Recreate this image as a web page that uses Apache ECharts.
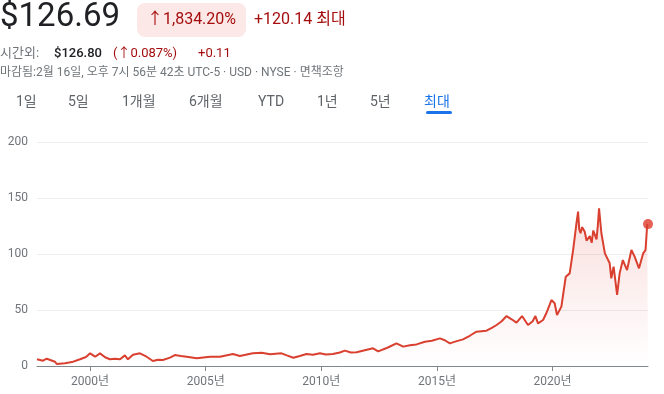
<!DOCTYPE html>
<html><head><meta charset="utf-8">
<script src="https://cdn.jsdelivr.net/npm/echarts@6/dist/echarts.min.js"></script>
<style>html,body{margin:0;padding:0;background:#fff}#c{width:664px;height:394px}</style>
</head><body><div id="c"></div>
<script>
const dates = ['1997-09-16','1997-12-20','1998-02-17','1998-06-28','1998-07-24','1998-12-02','1999-03-22','1999-07-27','1999-10-30','2000-01-03','2000-03-22','2000-06-07','2000-08-26','2000-11-10','2001-01-30','2001-04-20','2001-07-05','2001-08-22','2001-11-10','2002-02-28','2002-06-13','2002-09-20','2002-12-09','2003-02-24','2003-06-18','2003-09-02','2003-12-05','2004-03-07','2004-08-11','2005-03-11','2005-08-15','2006-03-07','2006-06-24','2007-01-15','2007-06-06','2007-10-12','2008-04-12','2008-07-05','2008-10-16','2009-01-26','2009-05-12','2009-08-22','2009-12-09','2010-03-14','2010-07-02','2010-10-20','2011-01-08','2011-04-13','2011-07-13','2011-11-18','2012-03-28','2012-06-17','2012-11-17','2013-04-02','2013-07-17','2013-10-31','2014-02-13','2014-06-25','2014-10-12','2015-02-17','2015-05-05','2015-07-24','2015-10-27','2016-02-17','2016-06-02','2016-09-16','2017-02-21','2017-05-16','2017-07-31','2017-10-19','2018-01-05','2018-03-26','2018-06-10','2018-09-06','2018-12-09','2019-02-21','2019-04-05','2019-05-16','2019-08-04','2019-10-01','2019-12-14','2020-02-03','2020-03-11','2020-05-19','2020-07-27','2020-09-27','2020-11-21','2021-01-12','2021-02-07','2021-02-25','2021-03-18','2021-04-10','2021-05-23','2021-06-20','2021-08-11','2021-09-10','2021-10-05','2021-10-27','2021-11-25','2021-12-15','2022-01-04','2022-02-10','2022-04-06','2022-06-21','2022-07-16','2022-08-22','2022-10-16','2022-11-25','2023-01-15','2023-03-22','2023-05-30','2023-07-20','2023-09-27','2023-12-02','2024-01-08','2024-02-03','2024-02-16'];
const prices = [6,4.7,6.5,3.8,1.8,2.5,3.5,6,8,11.3,8.3,11.3,7.8,6,6.5,6,9.5,6,10,11.3,8.3,4.5,5.5,5.4,7.5,9.8,9,8.3,6.9,8.3,8.3,10.7,8.9,11.3,11.8,10.4,11.3,9.5,7.4,9,10.7,10,11.3,10.2,10.7,12,13.7,12,12.2,14,15.8,13.1,16.5,20.2,17.3,18.5,19.3,21.7,22.5,24.7,23,20.2,22,23.8,27,30.6,31.5,34,36.6,40,44.6,41.7,38.7,44.6,36.6,40,44.6,38.1,41.1,48,58.9,56,45.5,53,79.7,82.7,103.6,127.4,137.8,122,118.5,124,119.9,112,116,110,121,119.9,113,125,140.8,118.5,100.6,91.7,78.3,88.7,63.4,82.7,94.6,85.7,103.6,97.6,87.2,100.6,103.6,125.9,126.69];
const yTicks = [0, 50, 100, 150, 200];
const xTickYears = [2000, 2005, 2010, 2015, 2020];
const tabs = ['1일','5일','1개월','6개월','YTD','1년','5년','최대'];
const tabX = [16, 68, 122, 189, 258, 317, 370, 424];

const chart = echarts.init(document.getElementById('c'), null, {renderer: 'canvas'});
const FONT = 'Roboto, "Noto Sans CJK KR", sans-serif';
const RED = '#a50e0e';
const GRAY = '#70757a';
const ts = d => Date.parse(d + 'T00:00:00Z');
const tickVals = xTickYears.map(y => Date.UTC(y, 0, 1));
const last = dates.length - 1;

const graphics = [
  {type:'text', left:0, top:1, style:{text:'$126.69', font:'400 33px ' + FONT, fill:'#202124'}},
  {type:'rect', shape:{x:137, y:3, width:109, height:34, r:8}, style:{fill:'#fce8e6'}},
  {type:'text', x:147, y:20, style:{text:'↑1,834.20%', font:'400 16px ' + FONT, fill:RED, verticalAlign:'middle'}},
  {type:'text', x:254, y:20, style:{text:'+120.14 최대', font:'400 16px ' + FONT, fill:RED, verticalAlign:'middle'}},
  {type:'text', x:0, y:54, style:{text:'시간외:', font:'400 13px ' + FONT, fill:GRAY, verticalAlign:'middle'}},
  {type:'text', x:54, y:54, style:{text:'$126.80', font:'500 13px ' + FONT, fill:'#202124', verticalAlign:'middle'}},
  {type:'text', x:113, y:54, style:{text:'(↑0.087%)', font:'400 13px ' + FONT, fill:RED, verticalAlign:'middle'}},
  {type:'text', x:198, y:54, style:{text:'+0.11', font:'400 13px ' + FONT, fill:RED, verticalAlign:'middle'}},
  {type:'text', x:0, y:73, style:{text:'마감됨:2월 16일, 오후 7시 56분 42초 UTC-5 · USD · NYSE · 면책조항', font:'400 12px ' + FONT, fill:GRAY, verticalAlign:'middle'}},
  {type:'rect', shape:{x:426, y:111, width:26, height:3, r:1.5}, style:{fill:'#1a73e8'}}
];
tabs.forEach((t, i) => {
  graphics.push({type:'text', x:tabX[i], y:102, style:{text:t, font:'400 14px ' + FONT, fill: i === tabs.length - 1 ? '#1a73e8' : '#5f6368', verticalAlign:'middle'}});
});

chart.setOption({
  animation: false,
  backgroundColor: '#fff',
  graphic: graphics,
  grid: {left: 37, right: 16, top: 142, bottom: 28, containLabel: false},
  xAxis: {
    type: 'value',
    min: ts(dates[0]),
    max: ts(dates[last]),
    splitLine: {show: false},
    axisLine: {lineStyle: {color: '#80868b', width: 1}},
    axisTick: {show: true, length: 5, customValues: tickVals, lineStyle: {color: '#80868b'}},
    axisLabel: {customValues: tickVals, margin: 10, color: GRAY, fontSize: 12, fontFamily: FONT,
      formatter: v => new Date(v).getUTCFullYear() + '년'}
  },
  yAxis: {
    type: 'value', min: yTicks[0], max: yTicks[yTicks.length - 1], interval: 50,
    axisLine: {show: false}, axisTick: {show: false},
    axisLabel: {margin: 9, color: GRAY, fontSize: 12, fontFamily: FONT},
    splitLine: {lineStyle: {color: '#ebedf0', width: 1}}
  },
  series: [
    {
      type: 'line', data: dates.map((d, i) => [ts(d), prices[i]]), showSymbol: false, symbol: 'none',
      lineStyle: {color: '#d9402f', width: 2},
      areaStyle: {color: new echarts.graphic.LinearGradient(0, 0, 0, 1, [
        {offset: 0, color: 'rgba(217,48,37,0.22)'},
        {offset: 1, color: 'rgba(217,48,37,0)'}
      ])}
    },
    {
      type: 'scatter', data: [[ts(dates[last]), prices[last]]], symbolSize: 10,
      itemStyle: {color: '#e0392b'}
    }
  ]
});
</script></body></html>
